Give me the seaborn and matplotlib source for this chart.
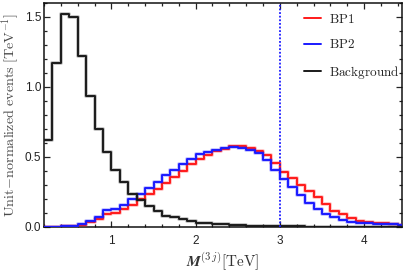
import numpy as np
import pandas as pd
import matplotlib
matplotlib.use("Agg")
import matplotlib.pyplot as plt
import matplotlib.patheffects as pe
from matplotlib.ticker import MultipleLocator, FormatStrFormatter
import seaborn as sns

# ---- data (unit-normalized events per 0.1 TeV bin, lower edges 0.2 ... 4.4 TeV) ----
bin_lo = 0.2
bin_hi = 4.5
bin_w = 0.1

bp1 = [0.0, 0.0, 0.002, 0.006, 0.013, 0.031, 0.055, 0.092, 0.100, 0.124,
       0.155, 0.195, 0.233, 0.273, 0.312, 0.352, 0.395, 0.445, 0.487, 0.511,
       0.541, 0.558, 0.575, 0.575, 0.566, 0.541, 0.511, 0.459, 0.392, 0.345,
       0.297, 0.257, 0.212, 0.162, 0.114, 0.088, 0.060, 0.043, 0.031, 0.029,
       0.024, 0.019, 0.014]

bp2 = [0.0, 0.0, 0.003, 0.008, 0.017, 0.040, 0.067, 0.119, 0.124, 0.155,
       0.195, 0.233, 0.278, 0.320, 0.370, 0.409, 0.451, 0.487, 0.518, 0.534,
       0.546, 0.560, 0.570, 0.566, 0.551, 0.527, 0.480, 0.409, 0.338, 0.285,
       0.226, 0.171, 0.124, 0.090, 0.067, 0.048, 0.036, 0.029, 0.024, 0.021,
       0.019, 0.017, 0.014]

background = [0.620, 1.173, 1.524, 1.503, 1.223, 0.938, 0.700, 0.534, 0.409, 0.318,
              0.233, 0.190, 0.147, 0.114, 0.080, 0.068, 0.053, 0.043, 0.029, 0.024,
              0.020, 0.017, 0.013, 0.010, 0.008, 0.006, 0.005, 0.004, 0.003, 0.002,
              0.002, 0.001, 0.001, 0.001, 0.001, 0.001, 0.001, 0.001, 0.001, 0.001,
              0.001, 0.001, 0.001]

cut_value = 3.0
series_names = ["BP1", "BP2", "Background"]
series_colors = ["#ff1a1a", "#1a1aff", "#1a1a1a"]

edges = [round(v, 3) for v in np.arange(bin_lo, bin_hi + bin_w / 2, bin_w)]
centers = [(a + b) / 2 for a, b in zip(edges[:-1], edges[1:])]

rows = []
for name, vals in zip(series_names, [bp1, bp2, background]):
    for c, v in zip(centers, vals):
        rows.append({"mass": c, "weight": v, "sample": name})
df = pd.DataFrame(rows)

# ---- style ----
sns.set_theme(style="ticks")
plt.rcParams["font.family"] = ["Liberation Sans", "DejaVu Sans"]
plt.rcParams["mathtext.fontset"] = "cm"
plt.rcParams["axes.linewidth"] = 1.0

fig = plt.figure(figsize=(4.09, 2.73), dpi=100)
ax = fig.add_axes([44 / 409, 1 - 226.7 / 273, (402 - 44) / 409, (226.7 - 3) / 273])

for name, col in zip(series_names, series_colors):
    sub = df[df["sample"] == name]
    sns.histplot(data=sub, x="mass", weights="weight", bins=edges,
                 element="step", fill=False, color=col, linewidth=1.4,
                 label=r"$\mathrm{" + name + "}$", ax=ax, zorder=3)

for ln in ax.lines:
    c = ln.get_color()
    ln.set_path_effects([pe.Stroke(linewidth=2.8, foreground=c, alpha=0.25), pe.Normal()])

ax.axvline(cut_value, color="#1a1aff", linestyle=(0, (1.0, 1.0)), linewidth=1.3, zorder=4)

ax.set_xlim(0.2, 4.45)
ax.set_ylim(0, 1.6)

ax.xaxis.set_major_locator(MultipleLocator(1))
ax.xaxis.set_minor_locator(MultipleLocator(0.2))
ax.yaxis.set_major_locator(MultipleLocator(0.5))
ax.yaxis.set_minor_locator(MultipleLocator(0.1))
ax.yaxis.set_major_formatter(FormatStrFormatter("%.1f"))
ax.xaxis.set_major_formatter(FormatStrFormatter("%d"))

ax.tick_params(which="both", direction="in", top=True, right=True, colors="#222222",
               labelsize=8.5, width=0.9)
ax.tick_params(which="major", length=4)
ax.tick_params(which="minor", length=2.3)
ax.tick_params(axis="x", which="major", pad=6)
ax.tick_params(axis="y", which="major", pad=2)

for s in ax.spines.values():
    s.set_color("#111111")
    s.set_linewidth(1.1)

ax.set_xlabel(r"$\boldsymbol{M}^{(3\,j)}\mathrm{[TeV]}$", fontsize=11, color="#333333", labelpad=2)
ax.set_ylabel(r"$\mathrm{Unit\!-\!normalized\ events\ [TeV^{-1}]}$", fontsize=10.2,
              color="#4a4a4a", labelpad=2)

leg = ax.legend(loc="upper right", bbox_to_anchor=(0.997, 0.962), frameon=False,
                fontsize=9.5, handlelength=1.3, handletextpad=0.6, labelspacing=0.95,
                borderaxespad=0.0, borderpad=0.1)
for h in leg.get_lines():
    h.set_path_effects([])
    h.set_linewidth(1.4)

fig.savefig("out.png", dpi=100)
